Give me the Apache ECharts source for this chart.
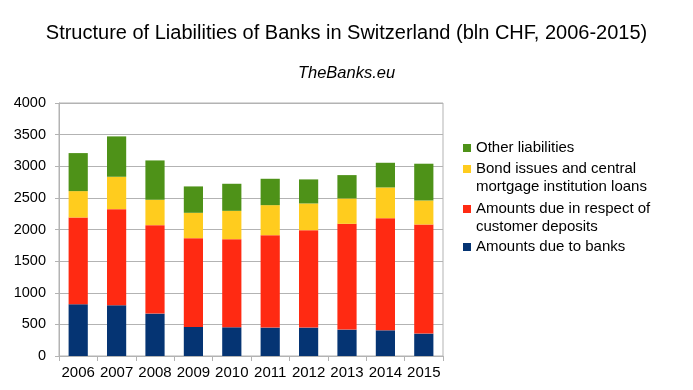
<!DOCTYPE html>
<html>
<head>
<meta charset="utf-8">
<script src="https://cdn.jsdelivr.net/npm/echarts@6/dist/echarts.min.js"></script>
<style>html,body{margin:0;padding:0;background:#fff;}#c{width:693px;height:390px;}</style>
</head>
<body>
<div id="c"></div>
<script>
var years = ['2006','2007','2008','2009','2010','2011','2012','2013','2014','2015'];
var dueToBanks = [818, 802, 670, 459, 454, 449, 449, 417, 406, 354];
var customerDeposits = [1372, 1520, 1399, 1404, 1393, 1461, 1540, 1673, 1773, 1725];
var bondIssues = [417, 512, 401, 401, 448, 475, 423, 401, 486, 380];
var otherLiabilities = [601, 638, 622, 417, 428, 417, 380, 369, 390, 581];
var yTicks = [0, 500, 1000, 1500, 2000, 2500, 3000, 3500, 4000];

var names = ['Amounts due to banks', 'Amounts due in respect of\ncustomer deposits', 'Bond issues and central\nmortgage institution loans', 'Other liabilities'];
var colors = ['#053473', '#ff2a12', '#ffcc1e', '#4e9218'];
var values = [dueToBanks, customerDeposits, bondIssues, otherLiabilities];

var font = 'Liberation Sans, Arial, sans-serif';
var chart = echarts.init(document.getElementById('c'), null, {renderer: 'canvas'});

function legendFor(i, top) {
  var multi = names[i].indexOf('\n') >= 0;
  return {
    show: true, orient: 'vertical', left: 463, top: top, padding: 0,
    itemWidth: 8, itemHeight: 8, icon: 'rect',
    data: [names[i]],
    formatter: function (n) { return multi ? '\n' + n : n; },
    textStyle: {fontFamily: font, fontSize: 15, color: '#000', lineHeight: 18}
  };
}

var series = values.map(function (v, i) {
  return {
    name: names[i], type: 'bar', stack: 'total', data: v, barWidth: '50%',
    itemStyle: {color: colors[i]}, emphasis: {disabled: true}
  };
});

chart.setOption({
  animation: false,
  backgroundColor: '#fff',
  title: [
    {text: 'Structure of Liabilities of Banks in Switzerland (bln CHF, 2006-2015)', left: 'center', top: 18,
      textStyle: {fontFamily: font, fontSize: 20, fontWeight: 'normal', color: '#000'}},
    {text: 'TheBanks.eu', left: 'center', top: 60,
      textStyle: {fontFamily: font, fontSize: 16.5, fontWeight: 'normal', fontStyle: 'italic', color: '#000'}}
  ],
  legend: [legendFor(3, 139), legendFor(2, 142), legendFor(1, 182), legendFor(0, 238)],
  grid: {left: 59, right: 250, top: 103, bottom: 34, show: true, borderColor: '#b3b3b3', borderWidth: 1},
  xAxis: {
    type: 'category', data: years,
    axisLine: {lineStyle: {color: '#b3b3b3'}},
    axisTick: {show: true, length: 5, lineStyle: {color: '#b3b3b3'}},
    axisLabel: {color: '#000', fontFamily: font, fontSize: 15, margin: 9, interval: 0}
  },
  yAxis: {
    type: 'value', min: 0, max: 4000, interval: 500,
    axisLine: {show: true, lineStyle: {color: '#b3b3b3'}},
    axisTick: {show: true, length: 4, lineStyle: {color: '#b3b3b3'}},
    axisLabel: {color: '#000', fontFamily: font, fontSize: 14.5, margin: 13,
      formatter: function (v) { return yTicks.indexOf(v) >= 0 ? String(v) : ''; }},
    splitLine: {lineStyle: {color: '#b3b3b3'}}
  },
  series: series
});
</script>
</body>
</html>
